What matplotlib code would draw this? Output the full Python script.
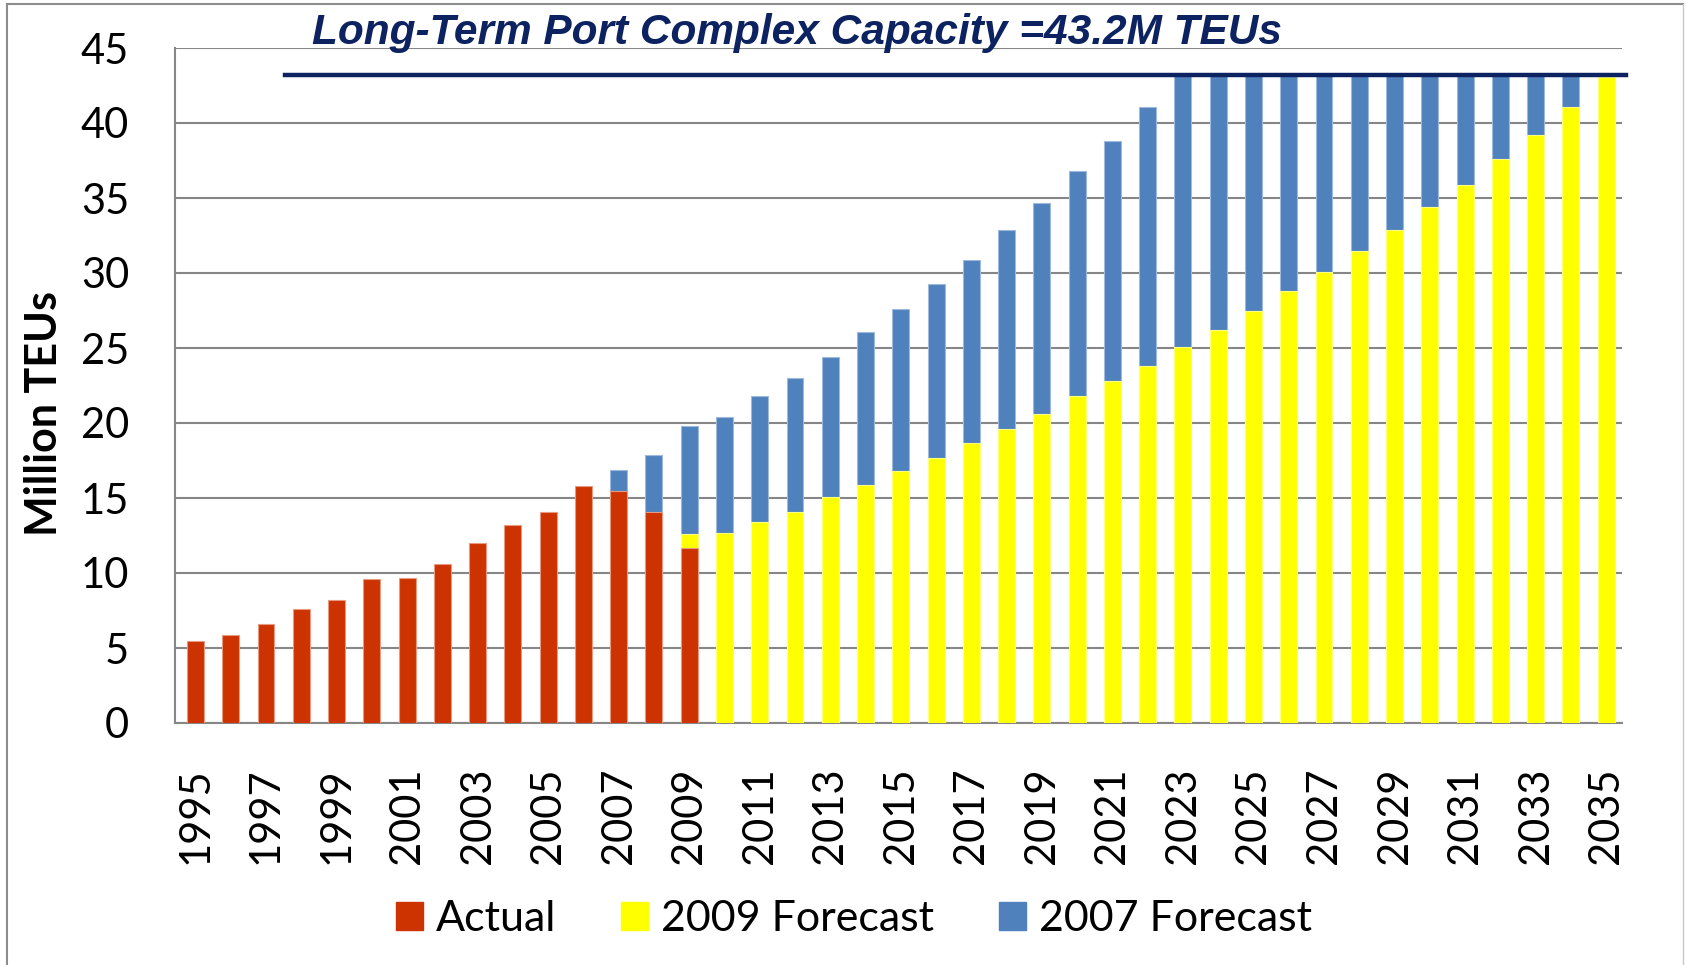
import numpy as np
import matplotlib
matplotlib.use("Agg")
import matplotlib.pyplot as plt
from matplotlib.patches import Patch
from matplotlib.lines import Line2D

plt.rcParams['font.family'] = ['Lato', 'DejaVu Sans']

years = list(range(1995, 2036))

actual_years = list(range(1995, 2010))
actual = [5.5, 5.9, 6.6, 7.6, 8.2, 9.6, 9.7, 10.6, 12.0, 13.2, 14.1, 15.8, 15.5, 14.1, 11.7]

f2009_years = list(range(2009, 2036))
f2009 = [12.6, 12.7, 13.4, 14.1, 15.1, 15.9, 16.8, 17.7, 18.7, 19.6, 20.6, 21.8, 22.8,
         23.8, 25.05, 26.2, 27.5, 28.8, 30.1, 31.5, 32.85, 34.4, 35.9, 37.6, 39.2, 41.1, 43.1]

f2007_years = list(range(2007, 2035))
f2007 = [16.9, 17.9, 19.8, 20.4, 21.8, 23.0, 24.4, 26.1, 27.6, 29.3, 30.9, 32.9, 34.7,
         36.8, 38.8, 41.1, 43.2, 43.2, 43.2, 43.2, 43.2, 43.2, 43.2, 43.2, 43.2, 43.2,
         43.2, 43.2]

capacity = 43.2
title = "Long-Term Port Complex Capacity =43.2M TEUs"

red = '#CC3300'
yellow = '#FFFF00'
blue = '#4F81BD'
navy = '#0C2261'
grey = '#868686'

def pos(yrs):
    return [years.index(y) for y in yrs]

fig = plt.figure(figsize=(16.86, 9.65), dpi=100)
ax = fig.add_axes([175/1686, 1-723/965, (1622-175)/1686, (723-48)/965])

w = 0.48
ax.bar(pos(f2007_years), f2007, w, color=blue, edgecolor='#9fb9dc', lw=0.8, zorder=2)
ax.bar(pos(f2009_years), f2009, w, color=yellow, edgecolor='#ffff80', lw=0.8, zorder=3)
ax.bar(pos(actual_years), actual, w, color=red, edgecolor='#e89a80', lw=0.8, zorder=4)

ax.set_xlim(-0.58, len(years) - 1 + 0.45)
ax.set_ylim(0, 45)
ax.set_yticks(range(0, 46, 5))
ax.yaxis.grid(True, color=grey, lw=1.5, zorder=0)
ax.set_axisbelow(True)

ticks = list(range(0, len(years), 2))
ax.set_xticks(ticks)
ax.set_xticklabels([str(years[i]) for i in ticks], rotation=90, fontsize=30)
ax.tick_params(axis='x', length=0, pad=32)
ax.tick_params(axis='y', length=0, pad=33, labelsize=30)

for s in ('top', 'right'):
    ax.spines[s].set_visible(False)
for s in ('left', 'bottom'):
    ax.spines[s].set_color(grey)
    ax.spines[s].set_linewidth(1.5)

ax.axhline(capacity, xmin=(285-175)/(1622-175), xmax=1.003, color=navy, lw=3.2,
           zorder=5, clip_on=False)

fig.text(44/1686, 1-414/965, 'Million TEUs', rotation=90, fontsize=31,
         fontweight='bold', ha='center', va='center')

fig.text(312/1686, 1-44/965, title, fontsize=30.5, fontweight='bold', style='italic',
         color=navy, ha='left', va='baseline',
         family=['Liberation Sans Narrow', 'Liberation Sans'])

handles = [Patch(color=red, label='Actual'),
           Patch(color=yellow, label='2009 Forecast'),
           Patch(color=blue, label='2007 Forecast')]
fig.legend(handles=handles, loc='center', bbox_to_anchor=(854/1686, 1-919/965), ncol=3,
           frameon=False, fontsize=31, handlelength=0.63, handleheight=0.63,
           handletextpad=0.3, columnspacing=1.5)

# outer frame
fig.add_artist(Line2D([7/1686, 7/1686], [0, 1-4/965], color='#8c8c8c', lw=1.5))
fig.add_artist(Line2D([7/1686, 1683/1686], [1-4/965, 1-4/965], color='#8c8c8c', lw=1.5))
fig.add_artist(Line2D([1683/1686, 1683/1686], [0, 1-4/965], color='#c8c8c8', lw=1))

fig.savefig('out.png', dpi=100)
